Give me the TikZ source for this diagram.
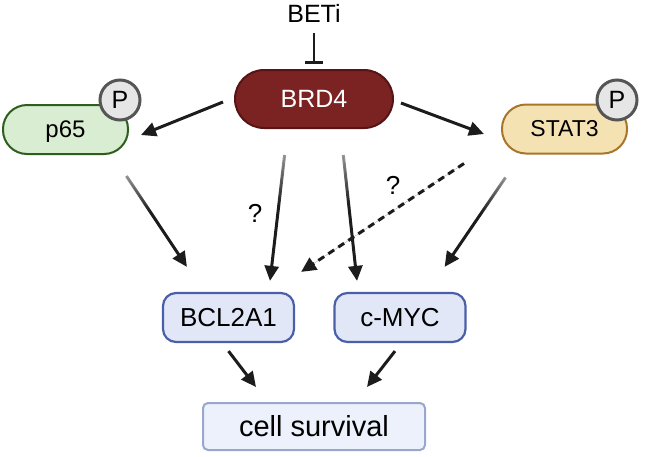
\documentclass[tikz,border=0pt]{standalone}
\usepackage{fontspec}
\setmainfont{Liberation Sans}
\usetikzlibrary{arrows.meta,fadings}

\definecolor{brdred}{HTML}{7B2222}
\definecolor{brdline}{HTML}{561414}
\definecolor{p65fill}{HTML}{D8EDD2}
\definecolor{p65line}{HTML}{2E5E1E}
\definecolor{statfill}{HTML}{F5E2B3}
\definecolor{statline}{HTML}{A8762A}
\definecolor{genefill}{HTML}{E2E7F8}
\definecolor{geneline}{HTML}{4A5FA8}
\definecolor{survfill}{HTML}{EDF1FB}
\definecolor{survline}{HTML}{9AA7CC}
\definecolor{phosfill}{HTML}{E6E6E6}
\definecolor{phosline}{HTML}{555555}
\definecolor{arrowblack}{HTML}{1C1C1C}

\pgfdeclareverticalshading{fadeshade}{100bp}{color(0bp)=(white); color(55bp)=(white); color(90bp)=(black); color(100bp)=(black)}
\pgfdeclarefading{fadein}{\pgfuseshading{fadeshade}}

\begin{document}
\begin{tikzpicture}[x=1pt, y=-1pt,
    every node/.style={font=\fontsize{26}{30}\selectfont},
    pill/.style={draw, line width=2pt, minimum width=125pt, minimum height=49pt, rounded corners=24pt, inner sep=0pt},
    gene/.style={draw=geneline, fill=genefill, line width=2.2pt, minimum width=131pt, minimum height=49pt, rounded corners=13pt},
    phos/.style={circle, draw=phosline, fill=phosfill, line width=3pt, minimum size=40pt, inner sep=0pt, font=\fontsize{25}{28}\selectfont},
    arr/.style={-{Triangle[length=15pt,width=14pt]}, line width=3pt, draw=arrowblack, fill=arrowblack},
    fadearr/.style={arr, path fading=fadein}]
    \useasboundingbox (0,0) rectangle (646,456);

    \node[anchor=base, inner sep=0pt, font=\fontsize{25}{30}\selectfont] (beti) at (314,22) {BETi};
    \node[pill, fill=brdred, draw=brdline, text=white, minimum width=158pt, minimum height=58pt, rounded corners=29pt, font=\fontsize{25}{30}\selectfont] (brd4) at (314,99) {BRD4};
    \node[pill, fill=p65fill, draw=p65line, text depth=0pt, font=\fontsize{24}{28}\selectfont] (p65) at (65.5,129.5) {p65};
    \node[pill, fill=statfill, draw=statline, font=\fontsize{23}{28}\selectfont] (stat3) at (564.5,129) {STAT3};
    \node[phos] (pp65) at (120,100) {P};
    \node[phos] (pstat3) at (617,100) {P};

    \node[gene] (bcl) at (228.5,317.5) {BCL2A1};
    \node[gene] (myc) at (400,317.5) {c-MYC};
    \node[draw=survline, fill=survfill, line width=2pt, minimum width=222pt, minimum height=47pt, rounded corners=5pt, font=\fontsize{29}{34}\selectfont] (surv) at (314,426.5) {cell survival};

    \draw[-{Bar[width=18pt]}, line width=2.8pt, draw=arrowblack] ([yshift=-11pt]beti.south) -- ([yshift=5pt]brd4.north);
    \draw[arr] ([xshift=-11pt,yshift=-3pt]brd4.west) -- ([xshift=12pt,yshift=-5.5pt]p65.east);
    \draw[arr] ([xshift=7pt,yshift=-4pt]brd4.east) -- ([xshift=-17pt,yshift=-5pt]stat3.west);

    % die oberen Pfeile laufen von oben her aus dem Nichts ein
    \draw[fadearr] ([xshift=-2.6pt,yshift=-21pt]p65.south east) -- ([xshift=25pt,yshift=25pt]bcl.north west);
    \draw[fadearr] ([xshift=-29.4pt,yshift=-26pt]brd4.south) -- ([xshift=41.5pt,yshift=11pt]bcl.north);
    \draw[fadearr] ([xshift=29.3pt,yshift=-26pt]brd4.south) -- ([xshift=-43pt,yshift=11pt]myc.north);
    \draw[fadearr] ([xshift=-59pt,yshift=-23pt]stat3.south) -- ([xshift=-22pt,yshift=25pt]myc.north east);
    \draw[arr, dash pattern=on 7pt off 5pt] ([xshift=-37pt,yshift=-9pt]stat3.south west) -- ([xshift=6pt,yshift=20pt]bcl.north east);
    \node (q1) at (255,213) {?};
    \node (q2) at (393,185) {?};

    \draw[arr] ([yshift=-8pt]bcl.south) -- ([xshift=-58pt,yshift=15pt]surv.north);
    \draw[arr] ([xshift=-5pt,yshift=-8pt]myc.south) -- ([xshift=53pt,yshift=15pt]surv.north);
\end{tikzpicture}
\end{document}
